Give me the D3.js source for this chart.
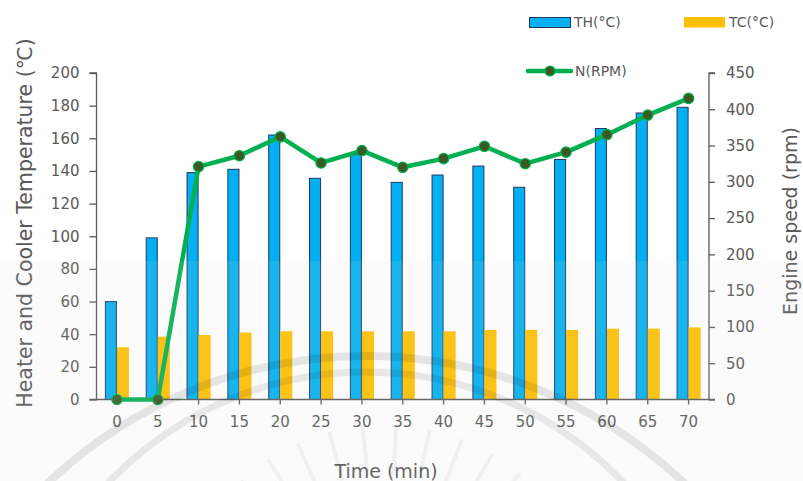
<!DOCTYPE html>
<html>
<head>
<meta charset="utf-8">
<script src="https://cdn.jsdelivr.net/npm/d3@7"></script>
<style>
  html, body { margin: 0; padding: 0; background: #ffffff; }
  svg { display: block; font-family: "DejaVu Sans", sans-serif; }
</style>
</head>
<body>
<svg id="chart" width="803" height="481"></svg>
<script>
// Time steps (min)
const times = ["0", "5", "10", "15", "20", "25", "30", "35", "40", "45", "50", "55", "60", "65", "70"];
// Heater temperature TH (°C)
const heaterTemp = [60, 99, 139, 141, 162, 135.5, 150, 133, 137.5, 143, 130, 147, 166, 175.5, 179];
// Cooler temperature TC (°C)
const coolerTemp = [32, 38.5, 39.5, 41, 41.8, 41.8, 41.8, 41.8, 41.8, 42.6, 42.6, 42.6, 43.4, 43.4, 44.2];
// Engine speed N (rpm)
const engineSpeed = [0, 0, 321, 336, 362, 326, 343, 320, 332, 349, 325, 341, 365, 392, 415];
// Axis ticks
const tempTicks = [0, 20, 40, 60, 80, 100, 120, 140, 160, 180, 200];
const rpmTicks = [0, 50, 100, 150, 200, 250, 300, 350, 400, 450];

const svg = d3.select("#chart");
const textColor = "#595959";
const axisColor = "#595959";

const plotLeft = 96.5, plotRight = 709, plotTop = 73, plotBottom = 399.5;

const x = d3.scaleBand().domain(times).range([plotLeft, plotRight])
  .paddingInner(0.41).paddingOuter(0.205);
const xSub = d3.scaleBand().domain(["TH", "TC"]).range([0, x.bandwidth()]);
const yT = d3.scaleLinear().domain([0, 200]).range([plotBottom, plotTop]);
const yN = d3.scaleLinear().domain([0, 450]).range([plotBottom, plotTop]);

const rows = times.map((t, i) => ({ t, th: heaterTemp[i], tc: coolerTemp[i], n: engineSpeed[i] }));

// Bars: heater (blue, outlined) and cooler (amber)
const g = svg.append("g");
g.selectAll("rect.th").data(rows).join("rect")
  .attr("class", "th")
  .attr("x", d => x(d.t) + xSub("TH") + 0.5)
  .attr("y", d => yT(d.th))
  .attr("width", xSub.bandwidth() - 1)
  .attr("height", d => yT(0) - yT(d.th))
  .attr("fill", "#00b0f0")
  .attr("stroke", "#1f3864")
  .attr("stroke-width", 1);

g.selectAll("rect.tc").data(rows).join("rect")
  .attr("class", "tc")
  .attr("x", d => x(d.t) + xSub("TC"))
  .attr("y", d => yT(d.tc))
  .attr("width", xSub.bandwidth())
  .attr("height", d => yT(0) - yT(d.tc))
  .attr("fill", "#ffc000");

// Left axis
const axL = svg.append("g").attr("transform", `translate(${plotLeft},0)`)
  .call(d3.axisLeft(yT).tickValues(tempTicks).tickSize(7).tickPadding(10));
// Right axis
const axR = svg.append("g").attr("transform", `translate(${plotRight},0)`)
  .call(d3.axisRight(yN).tickValues(rpmTicks).tickSize(6).tickPadding(11));
// Bottom axis
const axB = svg.append("g").attr("transform", `translate(0,${plotBottom})`)
  .call(d3.axisBottom(x).tickSize(5).tickPadding(12).tickSizeOuter(0));

[axL, axR, axB].forEach(ax => {
  ax.select(".domain").attr("stroke", axisColor).attr("stroke-width", 1.3);
  ax.selectAll(".tick line").attr("stroke", axisColor).attr("stroke-width", 1.3);
  ax.selectAll(".tick text").attr("fill", textColor)
    .style("font-family", "'DejaVu Sans', sans-serif").style("font-size", "15px");
});
axL.select(".domain").attr("d", `M-7,${plotTop}H0V${plotBottom}H-7`);
axR.select(".domain").attr("d", `M6,${plotTop}H0V${plotBottom}H6`);
axB.select(".domain").attr("d", `M${plotLeft},0H${plotRight}`);

// Engine speed line
const line = d3.line().x(d => x(d.t) + x.bandwidth() / 2).y(d => yN(d.n));
svg.append("path").datum(rows)
  .attr("d", line)
  .attr("fill", "none")
  .attr("stroke", "#00b050")
  .attr("stroke-width", 4.5)
  .attr("stroke-linejoin", "round");
svg.selectAll("circle.n").data(rows).join("circle")
  .attr("class", "n")
  .attr("cx", d => x(d.t) + x.bandwidth() / 2)
  .attr("cy", d => yN(d.n))
  .attr("r", 5.2)
  .attr("fill", "#3a5a24")
  .attr("stroke", "#00b050")
  .attr("stroke-width", 1.2);

// Axis titles
svg.append("text")
  .attr("transform", `translate(32,223) rotate(-90)`)
  .attr("text-anchor", "middle")
  .attr("fill", textColor)
  .style("font-size", "20.5px")
  .text("Heater and Cooler Temperature (℃)");
svg.append("text")
  .attr("transform", `translate(797,221) rotate(-90)`)
  .attr("text-anchor", "middle")
  .attr("fill", textColor)
  .style("font-size", "19px")
  .text("Engine speed (rpm)");
svg.append("text")
  .attr("x", 386).attr("y", 478)
  .attr("text-anchor", "middle")
  .attr("fill", textColor)
  .style("font-size", "19px")
  .text("Time (min)");

// Legend
const leg = svg.append("g");
leg.append("rect").attr("x", 529.5).attr("y", 17.5).attr("width", 41).attr("height", 10)
  .attr("fill", "#00b0f0").attr("stroke", "#1f3864").attr("stroke-width", 1);
leg.append("text").attr("x", 574).attr("y", 27).attr("fill", textColor)
  .style("font-size", "14px").text("TH(°C)");
leg.append("rect").attr("x", 684).attr("y", 17).attr("width", 41).attr("height", 10.5)
  .attr("fill", "#ffc000");
leg.append("text").attr("x", 729).attr("y", 27).attr("fill", textColor)
  .style("font-size", "14px").text("TC(°C)");
leg.append("line").attr("x1", 528).attr("x2", 571).attr("y1", 71).attr("y2", 71)
  .attr("stroke", "#00b050").attr("stroke-width", 4.5).attr("stroke-linecap", "round");
leg.append("circle").attr("cx", 550).attr("cy", 71).attr("r", 5)
  .attr("fill", "#3a5a24").attr("stroke", "#00b050").attr("stroke-width", 1.2);
leg.append("text").attr("x", 575).attr("y", 76).attr("fill", textColor)
  .style("font-size", "14px").text("N(RPM)");

// Faint emblem behind the lower half of the page
const mark = svg.append("g").attr("pointer-events", "none");
mark.append("rect").attr("x", 0).attr("y", 261).attr("width", 803).attr("height", 220)
  .attr("fill", "rgb(220,220,220)").attr("fill-opacity", 0.11);
mark.append("circle").attr("cx", 366).attr("cy", 818).attr("r", 462)
  .attr("fill", "none").attr("stroke", "#000").attr("stroke-opacity", 0.09).attr("stroke-width", 8);
mark.append("circle").attr("cx", 366).attr("cy", 727).attr("r", 355)
  .attr("fill", "none").attr("stroke", "#000").attr("stroke-opacity", 0.08).attr("stroke-width", 7);
const rayAngles = d3.range(-150, -29, 9);
mark.selectAll("line.ray").data(rayAngles).join("line")
  .attr("class", "ray")
  .attr("x1", a => 385 + 165 * Math.cos(a * Math.PI / 180))
  .attr("y1", a => 640 + 165 * Math.sin(a * Math.PI / 180))
  .attr("x2", a => 385 + 215 * Math.cos(a * Math.PI / 180))
  .attr("y2", a => 640 + 215 * Math.sin(a * Math.PI / 180))
  .attr("stroke", "#000").attr("stroke-opacity", 0.045).attr("stroke-width", 4);
</script>
</body>
</html>
